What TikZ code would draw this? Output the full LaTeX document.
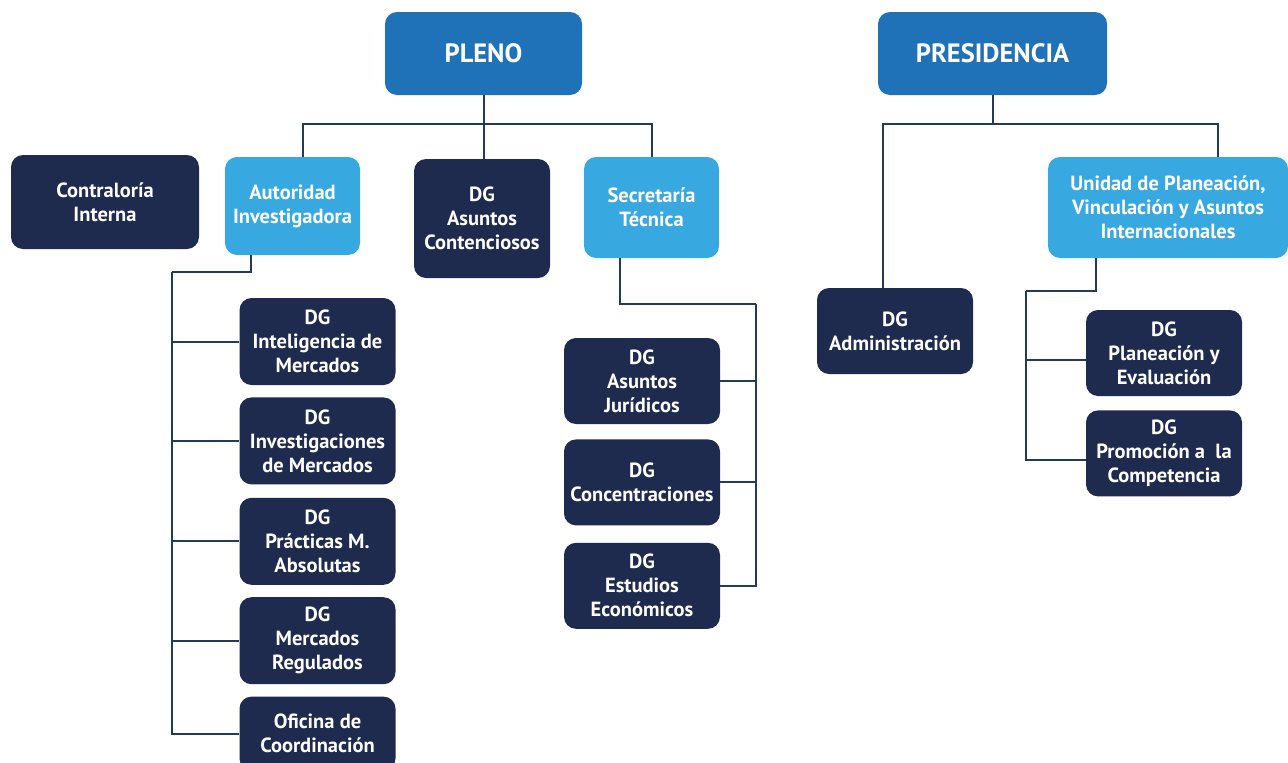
\documentclass[tikz,border=0pt]{standalone}
\usepackage{fontspec}
\setmainfont{PT Sans}
\usepackage{tikz}
\usetikzlibrary{positioning}

\definecolor{navy}{HTML}{1E2B4F}
\definecolor{skyblue}{HTML}{38A9E0}
\definecolor{midblue}{HTML}{1F71B8}
\definecolor{wire}{HTML}{233A58}

\tikzset{
  box/.style={rounded corners=12pt,text=white,align=center,inner sep=2pt,
    font=\fontsize{20.5}{24}\selectfont\bfseries},
  darkbox/.style={box,fill=navy,minimum width=156pt,minimum height=87pt},
  lightbox/.style={box,fill=skyblue},
  topbox/.style={box,fill=midblue,minimum height=83pt,
    font=\fontsize{26.5}{30}\selectfont\bfseries},
  conn/.style={draw=wire,line width=2pt}
}

\begin{document}
\begin{tikzpicture}[x=1pt,y=-1pt]
  \useasboundingbox (0,0) rectangle (1288,763);
  \clip (0,0) rectangle (1288,763);

  % heads
  \node[topbox,minimum width=197pt] (pleno) at (483.5,53.5) {PLENO};
  \node[topbox,minimum width=229pt] (pres) at (992.5,53.5) {PRESIDENCIA};

  % second row
  \node[darkbox,minimum width=188pt,minimum height=94pt] (ci) at (105,202) {Contraloría\\Interna};
  \node[lightbox,minimum width=135pt,minimum height=98pt] (ai) at (292.5,206) {Autoridad\\Investigadora};
  \node[darkbox,minimum width=136pt,minimum height=119pt] (dgac) at (482,218.5) {DG\\Asuntos\\Contenciosos};
  \node[lightbox,minimum width=135pt,minimum height=101pt] (st) at (651.5,207.5) {Secretaría\\Técnica};
  \node[lightbox,minimum width=240pt,minimum height=101pt] (up) at (1168,207.5) {Unidad de Planeación,\\Vinculación y Asuntos\\Internacionales};
  \node[darkbox,minimum height=86pt] (adm) at (895,331) {DG\\Administración};

  % Autoridad Investigadora
  \node[darkbox] (im) at (317.5,341.5) {DG\\Inteligencia de\\Mercados};
  \node[darkbox,below=12pt of im] (inv) {DG\\Investigaciones\\de Mercados};
  \node[darkbox,below=13pt of inv] (pma) {DG\\Prácticas M.\\Absolutas};
  \node[darkbox,below=12pt of pma] (mr) {DG\\Mercados\\Regulados};
  \node[darkbox,minimum height=74pt,below=12pt of mr,anchor=north] (oc) {Oficina de\\Coordinación};

  % Secretaria Tecnica
  \node[darkbox,minimum height=86pt] (aj) at (642,381) {DG\\Asuntos\\Jurídicos};
  \node[darkbox,minimum height=86pt,below=15pt of aj] (conc) {DG\\Concentraciones};
  \node[darkbox,minimum height=86pt,below=17pt of conc] (ee) {DG\\Estudios\\Económicos};

  % Unidad de Planeacion
  \node[darkbox,minimum height=86pt] (pe) at (1164,353) {DG\\Planeación y\\Evaluación};
  \node[darkbox,minimum height=86pt,below=14pt of pe] (pc) {DG\\Promoción a\ \ la\\Competencia};

  % spine points
  \coordinate (aispine) at (172,272);
  \coordinate (stspine) at (756,304);
  \coordinate (upspine) at (1026,291);

  \draw[conn] ([xshift=10.5pt]ai.north) -- ++(0,-33) -| (st.north);
  \draw[conn] (pleno.south) -- (pleno.south |- dgac.north);
  \draw[conn] ([xshift=-12pt]adm.north) -- ++(0,-164) -| ([xshift=50pt]up.north);
  \draw[conn] (pres.south) -- ++(0,29);

  \draw[conn] ([xshift=-41.5pt]ai.south) |- (aispine);
  \foreach \n in {im,inv,pma,mr,oc}
    \draw[conn] (aispine) |- (\n.west);

  \draw[conn] ([xshift=-31.5pt]st.south) |- (stspine);
  \foreach \n in {aj,conc,ee}
    \draw[conn] (stspine) |- (\n.east);

  \draw[conn] ([xshift=-72pt]up.south) |- (upspine);
  \foreach \n in {pe,pc}
    \draw[conn] (upspine) |- ([yshift=-7pt]\n.west);
\end{tikzpicture}
\end{document}
